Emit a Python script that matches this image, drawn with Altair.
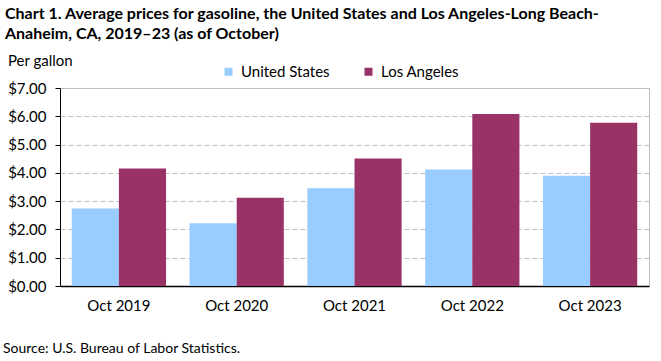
import altair as alt
import pandas as pd

# Average gasoline prices, dollars per gallon (October of each year)
periods = ["Oct 2019", "Oct 2020", "Oct 2021", "Oct 2022", "Oct 2023"]
us_prices = [2.74, 2.22, 3.46, 4.12, 3.90]
la_prices = [4.15, 3.12, 4.51, 6.08, 5.77]

series_names = ["United States", "Los Angeles"]
series_colors = ["#99CCFF", "#993366"]
y_ticks = [0, 1, 2, 3, 4, 5, 6, 7]

title_line1 = "Chart 1. Average prices for gasoline, the United States and Los Angeles-Long Beach-"
title_line2 = "Anaheim, CA, 2019\u201323 (as of October)"
unit_label = "Per gallon"
source_note = "Source: U.S. Bureau of Labor Statistics."

FONT = "Lato"

rows = []
for name, values in zip(series_names, [us_prices, la_prices]):
    for period, value in zip(periods, values):
        rows.append({"period": period, "series": name, "price": value})
prices = pd.DataFrame(rows)

bars = alt.Chart(prices).mark_bar().encode(
    x=alt.X(
        "period:N",
        sort=periods,
        scale=alt.Scale(paddingInner=0.2, paddingOuter=0.1),
        axis=alt.Axis(
            title=None,
            labelAngle=0,
            ticks=False,
            domainColor="black",
            domainWidth=1.5,
            labelFontSize=15,
            labelColor="black",
            labelPadding=12,
        ),
    ),
    xOffset=alt.XOffset(
        "series:N",
        sort=series_names,
        scale=alt.Scale(paddingInner=0, paddingOuter=0),
    ),
    y=alt.Y(
        "price:Q",
        scale=alt.Scale(domain=[0, 7], nice=False),
        axis=alt.Axis(
            title=None,
            values=y_ticks,
            format="$.2f",
            grid=True,
            gridColor="#BFBFBF",
            gridDash=[5, 3],
            gridWidth=1,
            domainColor="black",
            tickColor="black",
            tickSize=5,
            labelFontSize=15,
            labelColor="black",
            labelPadding=9,
        ),
    ),
    color=alt.Color(
        "series:N",
        sort=series_names,
        scale=alt.Scale(domain=series_names, range=series_colors),
        legend=alt.Legend(
            title=None,
            orient="none",
            direction="horizontal",
            legendX=161,
            legendY=-24,
            symbolType="square",
            symbolSize=64,
            symbolStrokeWidth=0,
            labelFontSize=15,
            labelColor="black",
            labelOffset=5,
            columnPadding=31,
        ),
    ),
)

notes = pd.DataFrame({"label": [title_line1, title_line2, unit_label, source_note]})


def note(text, x, y, size, weight="normal"):
    return (
        alt.Chart(notes)
        .transform_filter(alt.datum.label == text)
        .mark_text(
            align="left",
            baseline="alphabetic",
            font=FONT,
            fontSize=size,
            fontWeight=weight,
            color="black",
        )
        .encode(text="label:N", x=alt.value(x), y=alt.value(y))
    )


chart = (
    alt.layer(
        bars,
        note(title_line1, -55, -69, 16, "bold"),
        note(title_line2, -55, -49, 16, "bold"),
        note(unit_label, -52, -22, 15),
        note(source_note, -57, 265, 14),
    )
    .properties(
        width=589,
        height=198,
        autosize=alt.AutoSizeParams(type="none"),
        padding={"left": 60, "top": 88, "right": 12, "bottom": 75},
        background="white",
    )
    .configure(font=FONT)
    .configure_view(stroke="#BFBFBF", strokeWidth=1)
    .configure_axis(labelFont=FONT)
    .configure_legend(labelFont=FONT)
)

chart.save("out.html", embed_options={"renderer": "svg", "actions": False})
